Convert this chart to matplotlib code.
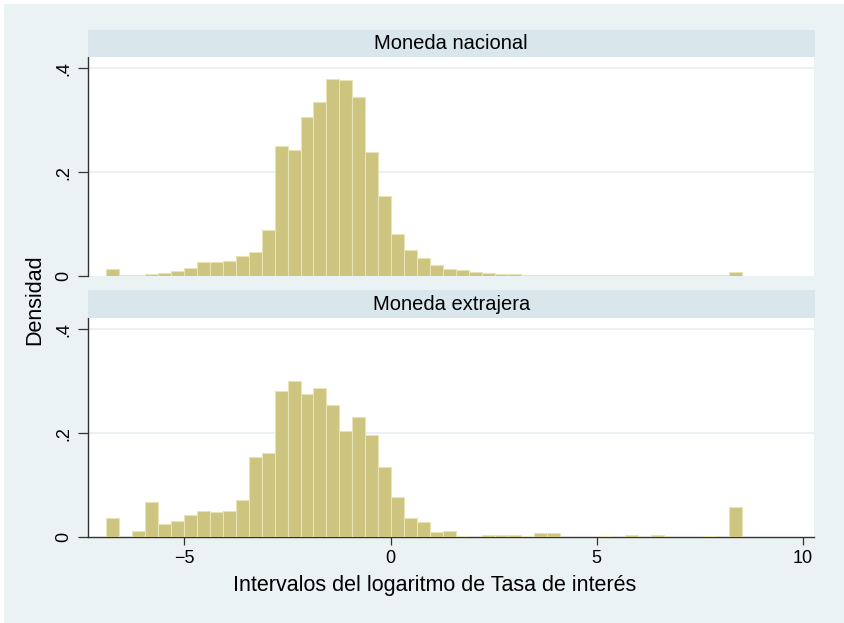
import numpy as np
import matplotlib
matplotlib.use('Agg')
import matplotlib.pyplot as plt
from matplotlib.patches import Rectangle

plt.rcParams['font.family'] = ['Liberation Sans', 'DejaVu Sans']

# histogram bins (49 bins, same for both panels)
bin_start = -6.904
bin_width = 0.3147

panel_titles = ["Moneda nacional", "Moneda extrajera"]

nacional = [0.0128, 0.002, 0.0026, 0.004, 0.006, 0.0103, 0.0154, 0.0276, 0.0276, 0.0283,
            0.0379, 0.0456, 0.088, 0.251, 0.243, 0.306, 0.335, 0.379, 0.377, 0.344,
            0.238, 0.155, 0.080, 0.051, 0.034, 0.021, 0.014, 0.0116, 0.0077, 0.0058,
            0.0045, 0.0032, 0.002, 0.002, 0.002, 0.0013, 0.0013, 0.0013, 0.0012, 0.0012,
            0.0012, 0.0012, 0.0012, 0.0012, 0.0012, 0.0012, 0.0012, 0.0012, 0.007]

extranjera = [0.0365, 0.0, 0.0122, 0.068, 0.0256, 0.0314, 0.043, 0.0506, 0.0487, 0.0506,
              0.0718, 0.155, 0.163, 0.281, 0.300, 0.276, 0.288, 0.254, 0.205, 0.231,
              0.197, 0.136, 0.0776, 0.0372, 0.0295, 0.0103, 0.0122, 0.0026, 0.0, 0.0045,
              0.0045, 0.0045, 0.0026, 0.0083, 0.0083, 0.0, 0.0, 0.0, 0.0026, 0.0,
              0.0045, 0.0, 0.0045, 0.0, 0.0, 0.0, 0.0026, 0.0, 0.058]

x_ticks = [-5, 0, 5, 10]
x_ticklabels = ['\u22125', '0', '5', '10']
y_ticks = [0, 0.2, 0.4]
y_ticklabels = ["0", ".2", ".4"]

BG = '#EAF2F3'
STRIP = '#D9E6EB'
FILL = '#CCC47F'
EDGE = '#E8E3B4'
GRID = '#E6EEF1'

W, H = 844, 623
fig = plt.figure(figsize=(W / 100, H / 100), dpi=100, facecolor='white')
fig.patches.append(Rectangle((4 / W, 0), 1, 1 - 4 / H, transform=fig.transFigure,
                             facecolor=BG, edgecolor='none', zorder=-10))


def px_axes(x0, y0, x1, y1):
    # pixel box (top-left origin) -> figure axes
    return fig.add_axes([x0 / W, 1 - y1 / H, (x1 - x0) / W, (y1 - y0) / H])


edges = bin_start + bin_width * np.arange(len(nacional) + 1)
panels = [(nacional, 57, 276, 30), (extranjera, 318, 537.3, 290)]

for i, (vals, top, bottom, strip_top) in enumerate(panels):
    ax = px_axes(87.5, top, 814, bottom)
    ax.set_facecolor('white')
    ax.bar(edges[:-1], vals, width=bin_width, align='edge', color=FILL,
           edgecolor=EDGE, linewidth=0.8, zorder=3)
    ax.set_xlim(-7.35, 10.27)
    ax.set_ylim(0, 0.422)
    for yv in [0.2, 0.4]:
        ax.axhline(yv, color=GRID, linewidth=1.2, zorder=1)
    ax.set_yticks(y_ticks)
    ax.set_yticklabels(y_ticklabels, rotation=90, va='center', fontsize=13)
    ax.tick_params(axis='y', length=7, width=0.9, color='#333333', pad=4)
    for s in ['top', 'right']:
        ax.spines[s].set_visible(False)
    ax.spines['left'].set_color('#333333')
    ax.spines['left'].set_linewidth(1.0)
    if i == 0:
        ax.spines['bottom'].set_visible(False)
        ax.set_xticks([])
    else:
        ax.spines['bottom'].set_color('#333333')
        ax.spines['bottom'].set_linewidth(1.0)
        ax.set_xticks(x_ticks)
        ax.set_xticklabels(x_ticklabels, fontsize=13)
        ax.tick_params(axis='x', length=6, width=0.9, color='#333333', pad=3)

    sax = px_axes(87.5, strip_top, 815, top)
    sax.set_facecolor(STRIP)
    sax.set_xticks([])
    sax.set_yticks([])
    for s in sax.spines.values():
        s.set_visible(False)
    sax.text(0.5, 0.5, panel_titles[i], ha='center', va='center', fontsize=14.5,
             transform=sax.transAxes)

fig.text(35 / W, 1 - 300 / H, "Densidad", rotation=90, ha='center', va='center', fontsize=15.5)
fig.text(434.5 / W, 1 - 585 / H, "Intervalos del logaritmo de Tasa de interés",
         ha='center', va='center', fontsize=15.5)

plt.savefig('out.png', dpi=100, facecolor=fig.get_facecolor())
